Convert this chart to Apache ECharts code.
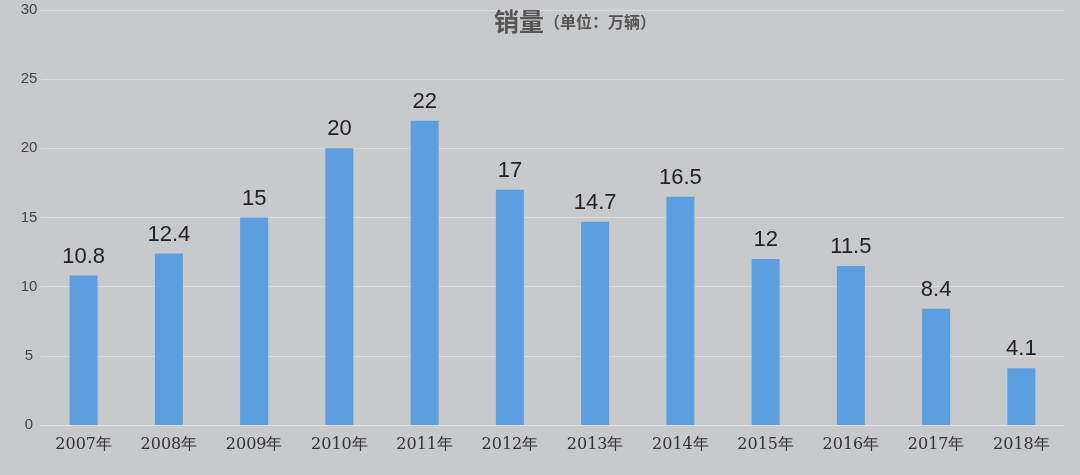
<!DOCTYPE html>
<html><head><meta charset="utf-8">
<script src="https://cdn.jsdelivr.net/npm/echarts@6/dist/echarts.min.js"></script>
<style>html,body{margin:0;padding:0;background:#c8c9cb}#c{width:1080px;height:475px}</style>
</head><body><div id="c"></div>
<script>
const categories=['2007年','2008年','2009年','2010年','2011年','2012年','2013年','2014年','2015年','2016年','2017年','2018年'];
const sales=[10.8,12.4,15,20,22,17,14.7,16.5,12,11.5,8.4,4.1];
const chart=echarts.init(document.getElementById('c'));
chart.setOption({
  backgroundColor:'#c8c9cb',
  title:{text:'{a|销量}{b|（单位：万辆）}',left:570,top:4,textAlign:'center',
    textStyle:{rich:{a:{fontSize:25,fontWeight:'bold',color:'#555',fontFamily:'Noto Sans CJK SC'},b:{fontSize:16,fontWeight:'bold',color:'#555',fontFamily:'Noto Sans CJK SC'}}}},
  grid:{left:41,right:16,top:10,bottom:50},
  xAxis:{type:'category',data:categories,axisTick:{show:false},
    axisLine:{lineStyle:{color:'#e0e0e0'}},
    axisLabel:{color:'#333',fontSize:16,margin:12,fontFamily:'DejaVu Serif'}},
  yAxis:{type:'value',min:0,max:30,interval:5,axisLine:{show:false},axisTick:{show:false},
    splitLine:{lineStyle:{color:'#dcdcdc',width:1}},
    axisLabel:{color:'#444',fontSize:15,margin:12,align:'center',padding:[0,0,0,0]}},
  series:[{type:'bar',data:sales,barWidth:28,itemStyle:{color:'#5b9fe0'},
    label:{show:true,position:'top',distance:8,color:'#222',fontSize:22}}]
});
</script></body></html>
